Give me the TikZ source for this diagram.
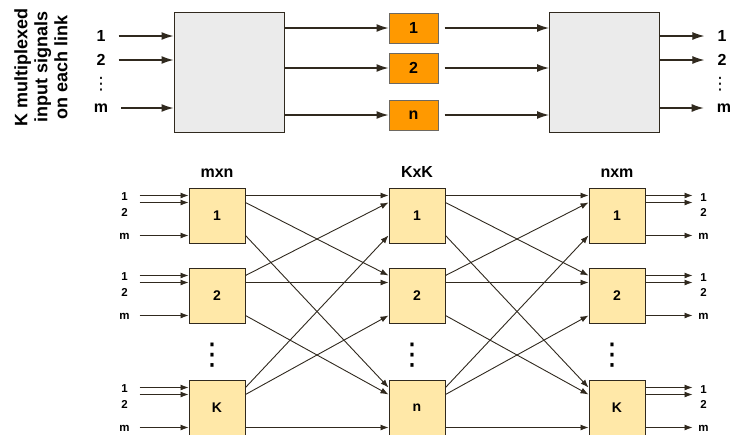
\documentclass[tikz,border=0pt]{standalone}
\usepackage{fontspec}
\setmainfont{Liberation Sans}
\newfontfamily\dotsfont{DejaVu Sans}
\usetikzlibrary{arrows.meta,positioning,calc}
\definecolor{boxgray}{HTML}{EBEBEB}
\definecolor{swfill}{HTML}{FFE8A8}
\definecolor{tdmfill}{HTML}{FF9900}
\definecolor{edge}{HTML}{30291E}
\tikzset{
  bigbox/.style={draw=edge, fill=boxgray, line width=1pt, minimum width=110pt, minimum height=120pt, inner sep=0pt},
  tdmbox/.style={draw=edge!70, fill=tdmfill, line width=1pt, minimum width=49pt, minimum height=30pt, inner sep=0pt, font=\bfseries\fontsize{16}{18}\selectfont},
  swbox/.style={draw=edge, fill=swfill, line width=1pt, minimum width=56pt, minimum height=55pt, inner sep=0pt, font=\bfseries\fontsize{14}{16}\selectfont},
  toplbl/.style={inner sep=0pt, font=\bfseries\fontsize{16}{18}\selectfont},
  smlbl/.style={inner sep=0pt, font=\bfseries\fontsize{11.5}{13}\selectfont},
  hdr/.style={inner sep=0pt, font=\bfseries\fontsize{16}{18}\selectfont},
  vdotsmall/.style={inner sep=0pt, font=\dotsfont\fontsize{17}{17}\selectfont},
  vdotbig/.style={inner sep=0pt, font=\dotsfont\fontsize{30}{30}\selectfont},
  bigsig/.style={draw=edge, line width=1.2pt, -{Latex[length=12pt,width=8pt]}},
  sig/.style={draw=edge, line width=0.9pt, -{Latex[length=8pt,width=6pt]}}
}
\begin{document}
\begin{tikzpicture}[x=1pt,y=-1pt]
\useasboundingbox (0,0) rectangle (731,434);

% top: multiplexed links
\node[rotate=90, align=center, inner sep=0pt, font=\bfseries\fontsize{18}{20}\selectfont] (klink) at (41,67) {K multiplexed\\input signals\\on each link};

\node[bigbox] (mux) at (229,72) {};
\node[tdmbox] (t1) at (413.5,28) {1};
\node[tdmbox] (t2) at (413.5,68) {2};
\node[tdmbox] (tn) at (413.5,115) {n};
\node[bigbox] (demux) at (604.5,72) {};

\node[toplbl] (a1) at (101,36) {1};
\node[toplbl] (a2) at (101,60) {2};
\node[vdotsmall] (ad) at (101,84) {⋮};
\node[toplbl] (am) at (101,108) {m};
\node[toplbl] (b1) at (722,36) {1};
\node[toplbl] (b2) at (722,60) {2};
\node[vdotsmall] (bd) at (720,84) {⋮};
\node[toplbl] (bm) at (724,108) {m};

\foreach \a in {a1,a2,am}
  \draw[bigsig] ([xshift=13pt]\a.east) -- (\a -| mux.west);
\foreach \t in {t1,t2,tn} {
  \draw[bigsig] (mux.east |- \t) -- (\t);
  \draw[bigsig] ([xshift=6pt]\t.east) -- (\t -| demux.west);
}
\foreach \b in {b1,b2,bm}
  \draw[bigsig] (demux.east |- \b) -- ([xshift=-13pt]\b -| \b.west);

% bottom: three-stage network
\foreach \r/\y/\t/\c in {1/215.5/1/1, 2/295.5/2/2, 3/407.5/K/n} {
  \node[swbox] (s\r) at (217,\y) {\t};
  \node[swbox] (c\r) at (417,\y) {\c};
  \node[swbox] (d\r) at (617,\y) {\t};
}
\node[hdr, above=10pt of s1] (h1) {mxn};
\node[hdr, above=10pt of c1] (h2) {KxK};
\node[hdr, above=10pt of d1] (h3) {nxm};

\node[vdotbig] (sd) at (212,355) {⋮};
\node[vdotbig] (cd) at (412,355) {⋮};
\node[vdotbig] (dd) at (612,355) {⋮};

% ports at 8, 15 and 48 below the top edge
\foreach \r in {1,2,3} {
  \foreach \p/\l in {1/8,2/15,3/48} {
    \coordinate (s\r in\p) at ($(s\r.north west)+(-49,\l)$);
    \coordinate (d\r out\p) at ($(d\r.north east)+(47,\l)$);
    \draw[sig] (s\r in\p) -- (s\r in\p -| s\r.west);
    \draw[sig] (d\r out\p -| d\r.east) -- (d\r out\p);
  }
  \node[smlbl] (s\r l1) at ($(s\r.north west)+(-64,9)$) {1};
  \node[smlbl] (s\r l2) at ($(s\r.north west)+(-64,25)$) {2};
  \node[smlbl] (s\r lm) at ($(s\r.north west)+(-64,49)$) {m};
  \node[smlbl] (d\r l1) at ($(d\r.north east)+(58,10)$) {1};
  \node[smlbl] (d\r l2) at ($(d\r.north east)+(58,25)$) {2};
  \node[smlbl] (d\r lm) at ($(d\r.north east)+(58,49)$) {m};
}

% crossbar wiring
\foreach \i/\pi in {1/8,2/15,3/48}
  \foreach \j/\pj in {1/8,2/15,3/48} {
    \draw[sig] ($(s\i.north east)+(0,\pj)$) -- ($(c\j.north west)+(0,\pi)$);
    \draw[sig] ($(c\i.north east)+(0,\pj)$) -- ($(d\j.north west)+(0,\pi)$);
  }
\end{tikzpicture}
\end{document}
